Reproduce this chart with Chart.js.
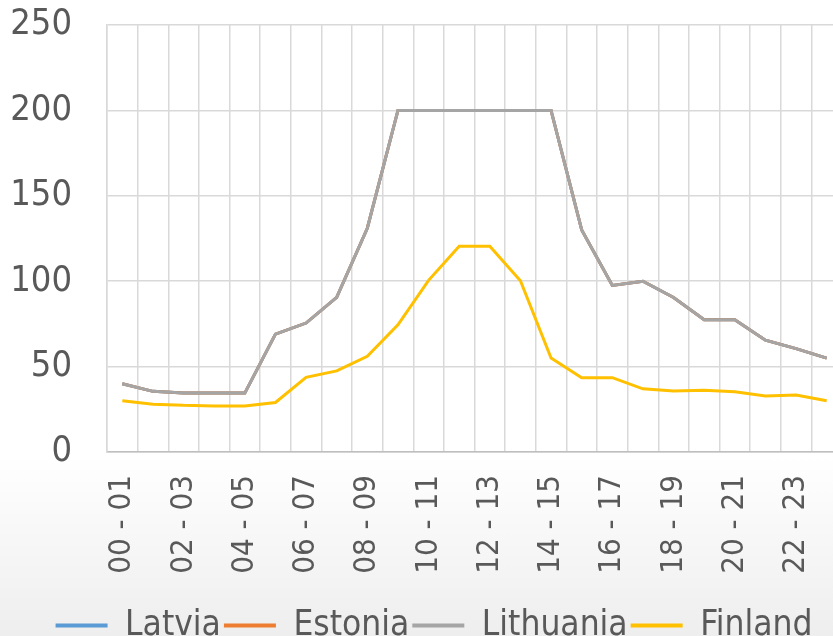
<!DOCTYPE html>
<html>
<head>
<meta charset="utf-8">
<script src="https://cdn.jsdelivr.net/npm/chart.js@4.4.1/dist/chart.umd.min.js"></script>
<style>
    html, body {
        margin: 0;
        padding: 0;
        width: 833px;
        height: 636px;
        overflow: hidden;
        background: linear-gradient(to bottom, #ffffff 0px, #ffffff 455px, #eeeeee 636px);
    }
    #myChart {
        display: block;
    }
</style>
</head>
<body>
<canvas id="myChart" width="845" height="653"></canvas>
<script>
const hours = ['00 - 01', '01 - 02', '02 - 03', '03 - 04', '04 - 05', '05 - 06', '06 - 07', '07 - 08',
    '08 - 09', '09 - 10', '10 - 11', '11 - 12', '12 - 13', '13 - 14', '14 - 15', '15 - 16',
    '16 - 17', '17 - 18', '18 - 19', '19 - 20', '20 - 21', '21 - 22', '22 - 23', '23 - 24']

// Latvia and Estonia sit under the Lithuania line (same prices)
const latvia = [40, 35.5, 34.5, 34.5, 34.5, 69, 75.5, 90.5, 131, 200, 200, 200, 200, 200, 200, 130, 97.5, 100, 90.5, 77.5, 77.5, 65.5, 60.5, 55]
const estonia = [40, 35.5, 34.5, 34.5, 34.5, 69, 75.5, 90.5, 131, 200, 200, 200, 200, 200, 200, 130, 97.5, 100, 90.5, 77.5, 77.5, 65.5, 60.5, 55]
const lithuania = [40, 35.5, 34.5, 34.5, 34.5, 69, 75.5, 90.5, 131, 200, 200, 200, 200, 200, 200, 130, 97.5, 100, 90.5, 77.5, 77.5, 65.5, 60.5, 55]
const finland = [30, 28, 27.3, 27, 27, 29, 43.7, 47.5, 56, 74.5, 100.5, 120.5, 120.5, 100.3, 55, 43.5, 43.5, 37, 35.7, 36.2, 35.3, 32.8, 33.4, 30]

const yTicks = [0, 50, 100, 150, 200, 250]

const textColor = '#595959'
const fontName = "'DejaVu Sans Condensed', 'DejaVu Sans', sans-serif"

function makeSet(label, data, color, order) {
    return {
        label: label,
        data: data,
        borderColor: color,
        backgroundColor: color,
        borderWidth: 3,
        pointRadius: 0,
        tension: 0,
        fill: false,
        order: order
    }
}

// legend sits a bit right of the canvas centre in the original
const shiftLegend = {
    id: 'shiftLegend',
    afterLayout: function (chart) {
        chart.legend.left += 9
        chart.legend.right += 9
    }
}

const ctx = document.getElementById('myChart').getContext('2d')
const myChart = new Chart(ctx, {
    type: 'line',
    data: {
        labels: hours,
        datasets: [
            makeSet('Latvia', latvia, '#5b9bd5', 3),
            makeSet('Estonia', estonia, '#ed7d31', 2),
            makeSet('Lithuania', lithuania, '#a5a5a5', 1),
            makeSet('Finland', finland, '#ffc000', 0)
        ]
    },
    plugins: [shiftLegend],
    options: {
        responsive: false,
        animation: false,
        layout: {
            padding: { top: 0, left: 8, right: 3, bottom: 0 }
        },
        scales: {
            x: {
                type: 'category',
                offset: true,
                grid: {
                    offset: true,
                    color: '#d9d9d9',
                    lineWidth: 1.5,
                    drawTicks: false
                },
                border: { color: '#bfbfbf', width: 1.5 },
                ticks: {
                    autoSkip: false,
                    maxRotation: 90,
                    minRotation: 90,
                    padding: 23,
                    color: textColor,
                    font: { family: fontName, size: 31 },
                    callback: function (value, index) {
                        return index % 2 === 0 ? hours[index] : ''
                    }
                },
                afterFit: function (scale) {
                    scale.height = 153
                    scale.paddingLeft = 0
                    scale.paddingRight = 0
                }
            },
            y: {
                min: 0,
                max: 250,
                afterBuildTicks: function (scale) {
                    scale.ticks = yTicks.map(v => ({ value: v }))
                },
                grid: {
                    color: '#d9d9d9',
                    lineWidth: 1.5,
                    drawTicks: false
                },
                border: { color: '#d9d9d9', width: 1.5 },
                ticks: {
                    padding: 35,
                    color: textColor,
                    font: { family: fontName, size: 36 }
                },
                afterFit: function (scale) {
                    scale.width = 99
                    scale.paddingTop = 25
                    scale.paddingBottom = 0
                }
            }
        },
        plugins: {
            legend: {
                position: 'bottom',
                labels: {
                    boxWidth: 52,
                    boxHeight: 4,
                    padding: 3,
                    color: textColor,
                    font: { family: fontName, size: 35 },
                    sort: (a, b) => a.datasetIndex - b.datasetIndex,
                    generateLabels: function (chart) {
                        const items = Chart.defaults.plugins.legend.labels.generateLabels(chart)
                        items.forEach(it => { it.lineWidth = 0 })
                        return items
                    }
                }
            },
            tooltip: { enabled: false },
            title: { display: false }
        }
    }
})
</script>
</body>
</html>
